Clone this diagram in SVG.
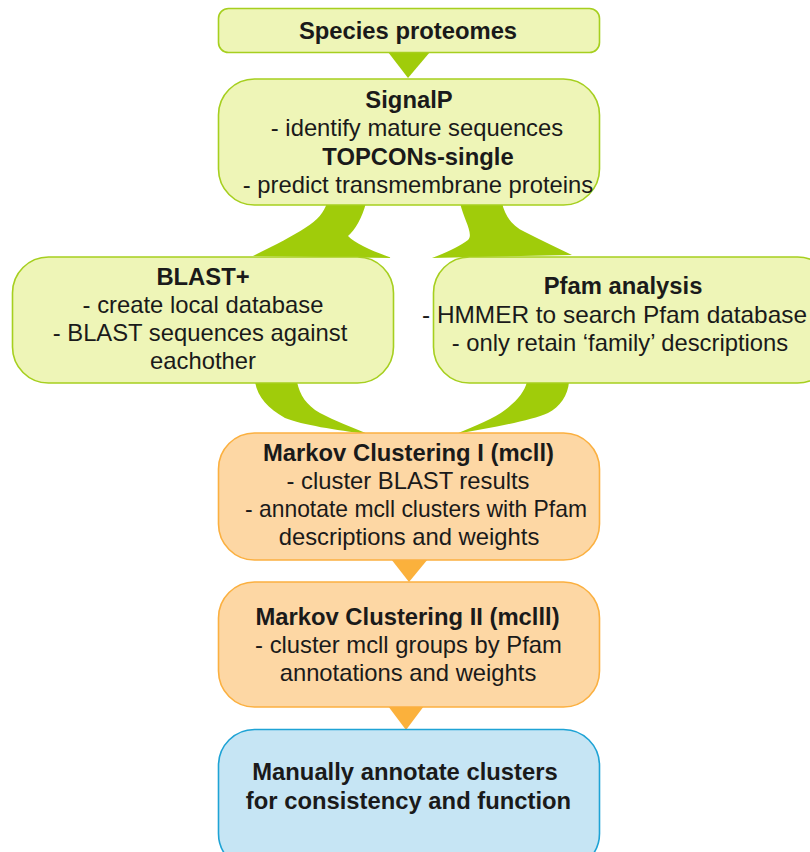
<svg xmlns="http://www.w3.org/2000/svg" width="810" height="852" viewBox="0 0 810 852">
<style>
.g{fill:#eef5b7;stroke:#a6cf1f;stroke-width:1.6}
.o{fill:#fdd7a4;stroke:#fbb040;stroke-width:1.6}
.b{fill:#c6e5f4;stroke:#1ea3d5;stroke-width:1.6}
.ga{fill:#a0cc0a}
.oa{fill:#fbb13c}
text{font-family:"Liberation Sans",Arial,sans-serif;font-size:23.8px;fill:#1a1a1a;text-anchor:middle}
.t{font-weight:bold}
</style>
<g id="connectors">
<polygon class="ga" points="388,52 430,52 408,78"/>
<path class="ga" d="M327,203 L366,203 C362,218 355,230 348,236 C356,244 372,251 392,258 L253,256 C275,245 293,236 305,228 C318,220 324,212 327,203 Z"/>
<path class="ga" d="M460,203 L502,203 C505,216 512,226 525,232 C540,240 556,247 572,255 L432,258 C448,252 460,246 468,240 C474,234 464,220 460,203 Z"/>
<path class="ga" d="M255,382 L297,382 C300,395 306,405 320,413 C335,421 352,427 368,434 C335,430 303,425 285,418 C268,408 258,398 255,382 Z"/>
<path class="ga" d="M527,382 L569,382 C568,395 560,407 548,413 C530,421 490,428 456,434 C475,426 495,418 505,410 C518,400 524,392 527,382 Z"/>
<polygon class="oa" points="391,559 428,559 409,582"/>
<polygon class="oa" points="388,706 424,706 406,730"/>
</g>
<g id="species">
<rect class="g" x="218.5" y="8.5" width="381" height="44" rx="10" ry="10"/>
<text class="t" x="408" y="38.5">Species proteomes</text>
</g>
<g id="signalp">
<rect class="g" x="218.5" y="79" width="381" height="126" rx="36" ry="36"/>
<text class="t" x="409" y="108">SignalP</text>
<text x="417" y="136">- identify mature sequences</text>
<text class="t" x="418" y="164.5">TOPCONs-single</text>
<text x="418" y="193">- predict transmembrane proteins</text>
</g>
<g id="blast">
<rect class="g" x="12.5" y="257" width="381" height="126" rx="36" ry="36"/>
<text class="t" x="203" y="284.5">BLAST+</text>
<text x="203" y="312.5">- create local database</text>
<text x="200" y="340.5">- BLAST sequences against</text>
<text x="203" y="368.5">eachother</text>
</g>
<g id="pfam">
<rect class="g" x="433.5" y="257" width="400" height="126" rx="36" ry="36"/>
<text class="t" x="623" y="294">Pfam analysis</text>
<text x="614.5" y="322.5" textLength="385" lengthAdjust="spacingAndGlyphs">- HMMER to search Pfam database</text>
<text x="620" y="350.5">- only retain ‘family’ descriptions</text>
</g>
<g id="mcl1">
<rect class="o" x="218.5" y="433" width="381" height="127" rx="36" ry="36"/>
<text class="t" x="408.5" y="460.5">Markov Clustering I (mcll)</text>
<text x="408" y="488.5">- cluster BLAST results</text>
<text x="416" y="516.5" textLength="342" lengthAdjust="spacingAndGlyphs">- annotate mcll clusters with Pfam</text>
<text x="409" y="544.5">descriptions and weights</text>
</g>
<g id="mcl2">
<rect class="o" x="218.5" y="582" width="381" height="125" rx="36" ry="36"/>
<text class="t" x="407.5" y="625">Markov Clustering II (mclll)</text>
<text x="408.5" y="653">- cluster mcll groups by Pfam</text>
<text x="408" y="681">annotations and weights</text>
</g>
<g id="manual">
<rect class="b" x="218.5" y="729.5" width="381" height="140" rx="36" ry="36"/>
<text class="t" x="405" y="780">Manually annotate clusters</text>
<text class="t" x="408.5" y="808.5">for consistency and function</text>
</g>
</svg>
